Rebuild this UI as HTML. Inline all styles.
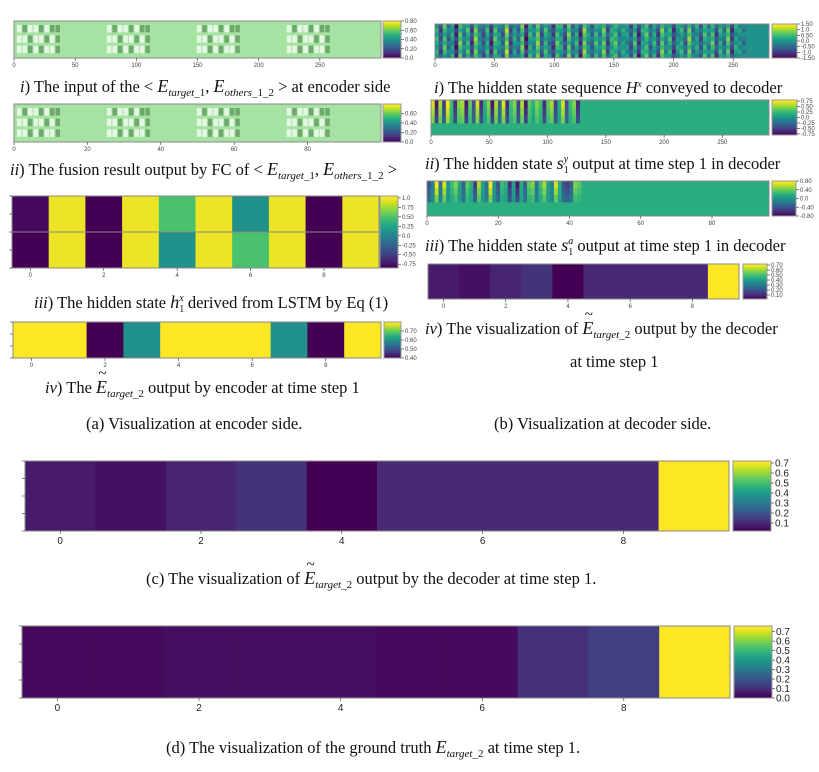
<!DOCTYPE html>
<html><head><meta charset="utf-8"><style>
html,body{margin:0;padding:0;background:#fff;}
svg{display:block;font-family:"Liberation Serif",serif;}
.tk{font-family:"Liberation Sans",sans-serif;font-size:6px;fill:#444;}
.tkb{font-family:"Liberation Sans",sans-serif;font-size:10px;fill:#222;}
.cap{font-size:16.5px;fill:#111;}
</style></head><body>
<svg id="fig" width="819" height="772" viewBox="0 0 819 772">
<g id="marks"></g>
<g>
<text class="cap" x="20" y="92"><tspan font-style="italic">i</tspan>) The input of the &lt; <tspan font-style="italic" font-size="18">E</tspan><tspan font-style="italic" font-size="11" dy="4">target</tspan><tspan font-size="11">_1</tspan><tspan dy="-4">, </tspan><tspan font-style="italic" font-size="18">E</tspan><tspan font-style="italic" font-size="11" dy="4">others</tspan><tspan font-size="11">_1_2</tspan><tspan dy="-4"> &gt; at encoder side</tspan></text>
<text class="cap" x="10" y="175"><tspan font-style="italic">ii</tspan>) The fusion result output by FC of &lt; <tspan font-style="italic" font-size="18">E</tspan><tspan font-style="italic" font-size="11" dy="4">target</tspan><tspan font-size="11">_1</tspan><tspan dy="-4">, </tspan><tspan font-style="italic" font-size="18">E</tspan><tspan font-style="italic" font-size="11" dy="4">others</tspan><tspan font-size="11">_1_2</tspan><tspan dy="-4"> &gt;</tspan></text>
<text class="cap" x="34" y="308"><tspan font-style="italic">iii</tspan>) The hidden state   <tspan font-style="italic" font-size="18">h</tspan><tspan font-size="10" dy="4">1</tspan><tspan font-style="italic" font-size="10" dx="-5" dy="-11">x</tspan><tspan dy="7">   derived from LSTM by Eq (1)</tspan></text>
<text class="cap" x="45" y="393"><tspan font-style="italic">iv</tspan>) The <tspan class="tE" font-style="italic" font-size="18">E</tspan><tspan font-style="italic" font-size="11" dy="4">target</tspan><tspan font-size="11">_2</tspan><tspan dy="-4">   output by encoder at time step 1</tspan></text>
<text class="cap" x="86" y="429">(a) Visualization at encoder side.</text>
<text class="cap" x="434" y="93"><tspan font-style="italic">i</tspan>) The hidden state sequence <tspan font-style="italic">H</tspan><tspan font-style="italic" font-size="9" dy="-6">x</tspan><tspan dy="6"> conveyed to decoder</tspan></text>
<text class="cap" x="425" y="169"><tspan font-style="italic">ii</tspan>) The hidden state   <tspan font-style="italic" font-size="18">s</tspan><tspan font-size="10" dy="4">1</tspan><tspan font-style="italic" font-size="10" dx="-5" dy="-11">y</tspan><tspan dy="7">   output at time step 1 in decoder</tspan></text>
<text class="cap" x="425" y="251"><tspan font-style="italic">iii</tspan>) The hidden state   <tspan font-style="italic" font-size="18">s</tspan><tspan font-size="10" dy="4">1</tspan><tspan font-style="italic" font-size="10" dx="-5" dy="-11">a</tspan><tspan dy="7">   output at time step 1 in decoder</tspan></text>
<text class="cap" x="425" y="334"><tspan font-style="italic">iv</tspan>) The visualization of   <tspan class="tE" font-style="italic" font-size="18">E</tspan><tspan font-style="italic" font-size="11" dy="4">target</tspan><tspan font-size="11">_2</tspan><tspan dy="-4">   output by the decoder</tspan></text>
<text class="cap" x="570" y="367">at time step 1</text>
<text class="cap" x="494" y="429">(b) Visualization at decoder side.</text>
<text class="cap" x="146" y="584">(c) The visualization of   <tspan class="tE" font-style="italic" font-size="18">E</tspan><tspan font-style="italic" font-size="11" dy="4">target</tspan><tspan font-size="11">_2</tspan><tspan dy="-4">   output by the decoder at time step 1.</tspan></text>
<text class="cap" x="166" y="753">(d) The visualization of the ground truth   <tspan font-style="italic" font-size="18">E</tspan><tspan font-style="italic" font-size="11" dy="4">target</tspan><tspan font-size="11">_2</tspan><tspan dy="-4">   at time step 1.</tspan></text>
</g>
</svg>
<script>
// ---- data ----
const catsC = [0,1,2,3,4,5,6,7,8,9];
const valsC = [0.07,0.05,0.09,0.12,0.02,0.1,0.1,0.1,0.1,0.72];
const valsD = [0.02,0.02,0.03,0.03,0.03,0.02,0.02,0.1,0.14,0.75];
const ticksCb = [0.1,0.2,0.3,0.4,0.5,0.6,0.7];
const ticksCbD = [0.0,0.1,0.2,0.3,0.4,0.5,0.6,0.7];
const xTicks = [0,2,4,6,8];
const seqTicks = [0,50,100,150,200,250];
const fcTicks = [0,20,40,60,80];
const hRow0 = [-0.8,1,-0.85,1,0.5,1,0.1,1,-0.85,1];
const hRow1 = [-0.85,1,-0.85,1,0.1,1,0.5,1,-0.85,1];
const encOut = [0.8,0.8,0.4,0.6,0.8,0.8,0.8,0.6,0.4,0.8];
const hxCols = [0.2,-0.6,0.4,-0.3,0.1,-0.9,0.5,-0.2,0.3,-0.7,0.6,-0.1,-0.5,0.2,-0.8,0.4,0.0,-0.4,0.7,-0.6,0.1,-0.3,0.5,-0.9,0.2,-0.1,0.6,-0.5,0.3,-0.2,-0.7,0.4,0.1,-0.6,0.5,-0.3,0.2,-0.8,0.6,0.0,-0.4,0.3,-0.1,0.5,-0.6,0.2,0.4,-0.2,0.1,0.0,-0.5,0.3,-0.8,0.1,0.4,-0.3,0.2,-0.6,0.5,-0.1,0.3,-0.7,0.0,0.2,-0.4,0.6,-0.2,0.1,-0.5,0.3,-0.1,0.4,-0.6,0.2,-0.3,0.5,-0.7,0.1,0.0,-0.2];
const syCols = [0.7,-0.7,0.6,-0.5,0.8,0.3,-0.6,0.5,0.6,-0.7,0.4,-0.4,0.7,-0.6,0.2,0.5,-0.7,0.6,-0.3,0.7,-0.6,0.3,0.5,-0.5,0.6,-0.7,0.4,0.2,0.5,0.3,-0.6,0.4,0.6,-0.5,0.2,0.7,-0.4,0.3,0.5,-0.6];
const saCols = [-0.4,-0.1,0.8,-0.2,0.7,0.0,0.3,0.5,0.1,-0.3,0.4,0.2,-0.5,0.6,0.1,-0.2,0.8,0.0,-0.4,0.3,0.2,-0.6,0.1,-0.7,0.2,-0.3,0.4,0.5,-0.2,0.3,0.6,0.1,-0.1,0.7,0.2,-0.4,-0.5,-0.3,0.5,0.4];
const aiBlocks = [0,1,2,3];
const aiPattern = [1,0,1,1,0,1,0,0,1,1,0,1,1,0,1,0,1,1,0,1,0,1,1,0];

const V=[[68,1,84],[72,36,117],[65,68,135],[53,95,141],[42,120,142],[33,145,140],[34,168,132],[68,191,112],[122,209,81],[189,223,38],[253,231,37]];
function vir(t){t=Math.max(0,Math.min(1,t));const f=t*10,i=Math.min(9,Math.floor(f)),r=f-i;const a=V[i],b=V[i+1];
return `rgb(${Math.round(a[0]+(b[0]-a[0])*r)},${Math.round(a[1]+(b[1]-a[1])*r)},${Math.round(a[2]+(b[2]-a[2])*r)})`;}
const NS='http://www.w3.org/2000/svg', G=document.getElementById('marks');
function el(tag,at,par){const e=document.createElementNS(NS,tag);for(const k in at)e.setAttribute(k,at[k]);(par||G).appendChild(e);return e;}
function txt(x,y,s,cls,anchor){const t=el('text',{x:x,y:y,class:cls,'text-anchor':anchor||'middle'});t.textContent=s;return t;}
function colorbar(x,y,w,h,vmin,vmax,ticks,cls,name){
  const g=el('g',{});
  
  
  const n=40;for(let i=0;i<n;i++){el('rect',{x:x,y:y+h-(i+1)*h/n,width:w,height:h/n+0.5,fill:vir(i/(n-1))},g);}
  el('rect',{x:x,y:y,width:w,height:h,fill:'none',stroke:'#999','stroke-width':1},g);
  ticks.forEach(t=>{const yy=y+h-(t-vmin)/(vmax-vmin)*h;el('line',{x1:x+w,x2:x+w+3,y1:yy,y2:yy,stroke:'#333','stroke-width':0.6},g);
    const tt=txt(x+w+4,yy+(cls==='tkb'?3.5:2),t.toFixed(cls==='tkb'?1:2).replace(/\.00$/,'.0'),cls,'start');g.appendChild(tt);});
}
function rowHeat(x,y,w,h,vals,vmin,vmax,name){
  const g=el('g',{});
  
  
  const cw=w/vals.length;
  vals.forEach((v,i)=>{const r=el('rect',{x:x+i*cw,y:y,width:cw+0.4,height:h,fill:vir((v-vmin)/(vmax-vmin))},g);
    
    });
  el('rect',{x:x,y:y,width:w,height:h,fill:'none',stroke:'#888','stroke-width':1},g);
  return cw;
}
function xAx(x,y,cw,cls,dy){xTicks.forEach(t=>{const xx=x+(t+0.5)*cw;el('line',{x1:xx,x2:xx,y1:y,y2:y+3,stroke:'#333','stroke-width':0.6});txt(xx,y+dy,String(t),cls);});}
function xAxN(x,y,w,n,ticks){ticks.forEach(t=>{const xx=x+t/n*w;el('line',{x1:xx,x2:xx,y1:y,y2:y+3,stroke:'#333','stroke-width':0.6});txt(xx,y+9,String(t),'tk');});}
function yTicks(x,y,h,n){for(let i=0;i<n;i++){const yy=y+i*h/(n-1);el('line',{x1:x-3,x2:x,y1:yy,y2:yy,stroke:'#333','stroke-width':0.6});}}

// (c)
let cw=rowHeat(25,461,704,70,valsC,0.02,0.72,'heatmap-c');
xAx(25,531,cw,'tkb',13);yTicks(25,461,70,5);
colorbar(733,461,38,70,0.02,0.72,ticksCb,'tkb','colorbar-c');
// (d)
cw=rowHeat(22,626,708,72,valsD,0.0,0.75,'heatmap-d');
xAx(22,698,cw,'tkb',13);yTicks(22,626,72,5);
colorbar(734,626,38,72,0.0,0.76,ticksCbD,'tkb','colorbar-d');
// b-iv
cw=rowHeat(428,264,311,35,valsC,0.02,0.72,'heatmap-b-iv');
xAx(428,299,cw,'tk',9);
colorbar(743,264,24,35,0.02,0.72,ticksCb,'tk','colorbar-b-iv');
// a-iii
cw=rowHeat(12,196,367,36,hRow0,-0.85,1.05,'heatmap-a-iii-row0');
rowHeat(12,232,367,36,hRow1,-0.85,1.05,'heatmap-a-iii-row1');
xAx(12,268,cw,'tk',9);yTicks(12,196,72,5);
colorbar(380,196,18,72,-0.85,1.05,[-0.75,-0.5,-0.25,0,0.25,0.5,0.75,1],'tk','colorbar-a-iii');
// a-iv
cw=rowHeat(13,322,368,36,encOut,0.4,0.8,'heatmap-a-iv');
xAx(13,358,cw,'tk',9);yTicks(13,322,36,4);
colorbar(384,322,17,36,0.4,0.8,[0.4,0.5,0.6,0.7],'tk','colorbar-a-iv');

// b-i hidden state sequence
(function(){const x=435,y=24,w=334,h=34;const g=el('g',{});


el('rect',{x:x,y:y,width:w,height:h,fill:vir(0.5)},g);
const sw=w*0.93/hxCols.length;
hxCols.forEach((v,i)=>{for(let r=0;r<8;r++){const vv=v+((i*7+r*3)%5-2)*0.12;el('rect',{x:x+i*sw,y:y+r*h/8,width:sw+0.3,height:h/8+0.3,fill:vir((vv+1.2)/2.4)},g);}});
el('rect',{x:x,y:y,width:w,height:h,fill:'none',stroke:'#888'},g);
xAxN(x,y+h,w,280,seqTicks);})();
colorbar(772,24,25,34,-1.5,1.5,[-1.5,-1,-0.5,0,0.5,1,1.5],'tk','colorbar-b-i');
// b-ii
(function(){const x=431,y=100,w=338,h=35;const g=el('g',{});


el('rect',{x:x,y:y,width:w,height:h,fill:'#2aae80'},g);
const sw=w*0.44/syCols.length;
syCols.forEach((v,i)=>{for(let r=0;r<3;r++){const vv=v*(1-r*0.15);el('rect',{x:x+i*sw,y:y+r*h*0.22,width:sw+0.3,height:h*0.22+0.3,fill:vir((vv+0.8)/1.6)},g);}});
el('rect',{x:x,y:y,width:w,height:h,fill:'none',stroke:'#888'},g);
xAxN(x,y+h,w,290,seqTicks);})();
colorbar(772,100,25,35,-0.8,0.8,[-0.75,-0.5,-0.25,0,0.25,0.5,0.75],'tk','colorbar-b-ii');
// b-iii
(function(){const x=427,y=181,w=342,h=35;const g=el('g',{});


el('rect',{x:x,y:y,width:w,height:h,fill:'#2aae80'},g);
const sw=w*0.45/saCols.length;
saCols.forEach((v,i)=>{for(let r=0;r<3;r++){const vv=v*(1-r*0.2);el('rect',{x:x+i*sw,y:y+r*h*0.2,width:sw+0.3,height:h*0.2+0.3,fill:vir((vv+0.8)/1.6)},g);}});
el('rect',{x:x,y:y,width:w,height:h,fill:'none',stroke:'#888'},g);
xAxN(x,y+h,w,96,fcTicks);})();
colorbar(772,181,24,35,-0.8,0.8,[-0.8,-0.4,0,0.4,0.8],'tk','colorbar-b-iii');
// a-i and a-ii pale green inputs
function paleHeat(x,y,w,h,name,cb,n,ticks){const g=el('g',{});


el('rect',{x:x,y:y,width:w,height:h,fill:'#a6e3a2'},g);
aiBlocks.forEach(b=>{const bx=x+3+b*w*0.245;aiPattern.forEach((p,i)=>{const c=i%8,r=Math.floor(i/8);
 el('rect',{x:bx+c*5.5,y:y+4+r*h*0.28,width:4.5,height:h*0.2,fill:p?'#e6f6e4':'#6fa86c'},g);});});
el('rect',{x:x,y:y,width:w,height:h,fill:'none',stroke:'#888'},g);
xAxN(x,y+h,w,n,ticks);
colorbar(x+w+2,y,18,h,0,0.8,cb,'tk',name+'-colorbar');}
paleHeat(14,21,367,37,'heatmap-a-i',[0,0.2,0.4,0.6,0.8],300,seqTicks);
paleHeat(14,104,367,38,'heatmap-a-ii',[0,0.2,0.4,0.6],100,fcTicks);
// tildes over E
document.querySelectorAll('.tE').forEach((t,i)=>{try{const p=t.getStartPositionOfChar(0);const w=t.getComputedTextLength();
 const tl=el('text',{x:p.x+w/2+1,y:p.y-15,'font-size':15,'text-anchor':'middle'},document.getElementById('fig'));
 tl.textContent='~';
 
 }catch(e){}});
</script>
</body></html>
